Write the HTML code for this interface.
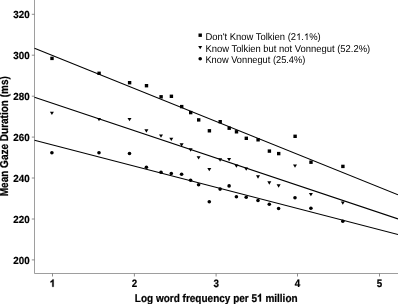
<!DOCTYPE html>
<html><head><meta charset="utf-8"><style>html,body{margin:0;padding:0;background:#fff}svg{display:block;will-change:transform}text{text-rendering:geometricPrecision;font-family:"Liberation Sans",sans-serif;fill:#000}.h{fill:none;stroke:none}.b{stroke:#000;stroke-width:0.2px;font-weight:bold}</style></head><body>
<svg width="398" height="304" viewBox="0 0 398 304">
<rect width="398" height="304" fill="#fff"/>
<path d="M34.5 0V273.5H398" stroke="#8c8c8c" stroke-width="0.85" fill="none"/>
<g stroke="#707070" stroke-width="0.8" fill="none">
<path d="M31.8 14.3H34.5"/>
<path d="M31.8 55.2H34.5"/>
<path d="M31.8 96.2H34.5"/>
<path d="M31.8 137.1H34.5"/>
<path d="M31.8 178.0H34.5"/>
<path d="M31.8 219.0H34.5"/>
<path d="M31.8 259.9H34.5"/>
<path d="M52.5 273.5V276.5"/>
<path d="M134.4 273.5V276.5"/>
<path d="M216.1 273.5V276.5"/>
<path d="M297.5 273.5V276.5"/>
<path d="M379.5 273.5V276.5"/>
</g>
<g font-size="9.8" class="b">
<text transform="translate(29.6 17.8) scale(1 1.05)" text-anchor="end">320</text>
<text transform="translate(29.6 58.8) scale(1 1.05)" text-anchor="end">300</text>
<text transform="translate(29.6 99.8) scale(1 1.05)" text-anchor="end">280</text>
<text transform="translate(29.6 140.8) scale(1 1.05)" text-anchor="end">260</text>
<text transform="translate(29.6 181.8) scale(1 1.05)" text-anchor="end">240</text>
<text transform="translate(29.6 222.8) scale(1 1.05)" text-anchor="end">220</text>
<text transform="translate(29.6 263.8) scale(1 1.05)" text-anchor="end">200</text>
<path transform="translate(49.78 286.8) scale(9.8 -10.316)" d="M.394 0H.256V.517Q.18 .446 .078 .412V.536Q.136 .555 .203 .604Q.269 .653 .282 .719H.394Z" fill="#000" stroke="#000" stroke-width="0.03"/>
<text transform="translate(134.4 286.8) scale(1 1.1)" text-anchor="middle">2</text>
<text transform="translate(216.1 286.8) scale(1 1.1)" text-anchor="middle">3</text>
<text transform="translate(297.5 286.8) scale(1 1.1)" text-anchor="middle">4</text>
<text transform="translate(379.5 286.8) scale(1 1.1)" text-anchor="middle">5</text>
</g>
<text id="xt" transform="translate(134.8 301.5) scale(1 1.12)" font-size="10.0" class="b">Log word frequency per 5<tspan class="h">1</tspan> million</text>
<path transform="translate(134.8 301.5) scale(1 1.12) translate(122.25 0) scale(10.0 -9.569)" d="M.394 0H.256V.517Q.18 .446 .078 .412V.536Q.136 .555 .203 .604Q.269 .653 .282 .719H.394Z" fill="#000" stroke="#000" stroke-width="0.03"/>
<text transform="translate(7.6 136.2) rotate(-90) scale(1 1.15)" font-size="10.0" class="b" text-anchor="middle">Mean Gaze Duration (ms)</text>
<g stroke="#000" stroke-width="1.05" fill="none">
<path d="M34.5 48.3L398 194.8"/>
<path d="M34.5 97.2L398 218.9"/>
<path d="M34.5 140.3L398 234.6"/>
</g>
<g fill="#000">
<rect x="50.30" y="56.70" width="3.4" height="3.4"/>
<rect x="97.40" y="71.60" width="3.4" height="3.4"/>
<rect x="127.90" y="81.00" width="3.4" height="3.4"/>
<rect x="144.80" y="84.00" width="3.4" height="3.4"/>
<rect x="159.40" y="95.10" width="3.4" height="3.4"/>
<rect x="169.70" y="94.60" width="3.4" height="3.4"/>
<rect x="180.00" y="104.90" width="3.4" height="3.4"/>
<rect x="189.00" y="110.90" width="3.4" height="3.4"/>
<rect x="197.00" y="118.20" width="3.4" height="3.4"/>
<rect x="207.70" y="129.10" width="3.4" height="3.4"/>
<rect x="218.50" y="120.00" width="3.4" height="3.4"/>
<rect x="227.50" y="126.50" width="3.4" height="3.4"/>
<rect x="234.80" y="130.10" width="3.4" height="3.4"/>
<rect x="244.60" y="136.60" width="3.4" height="3.4"/>
<rect x="256.40" y="138.10" width="3.4" height="3.4"/>
<rect x="267.70" y="149.40" width="3.4" height="3.4"/>
<rect x="277.00" y="151.90" width="3.4" height="3.4"/>
<rect x="293.40" y="134.60" width="3.4" height="3.4"/>
<rect x="309.30" y="160.50" width="3.4" height="3.4"/>
<rect x="341.20" y="164.70" width="3.4" height="3.4"/>
<path d="M49.90 111.65h4.0L51.90 114.95z"/>
<path d="M97.00 118.05h4.0L99.00 121.35z"/>
<path d="M127.50 117.95h4.0L129.50 121.25z"/>
<path d="M144.40 129.35h4.0L146.40 132.65z"/>
<path d="M159.00 134.45h4.0L161.00 137.75z"/>
<path d="M169.30 137.75h4.0L171.30 141.05z"/>
<path d="M179.60 143.35h4.0L181.60 146.65z"/>
<path d="M188.60 148.35h4.0L190.60 151.65z"/>
<path d="M196.60 156.15h4.0L198.60 159.45z"/>
<path d="M207.30 167.95h4.0L209.30 171.25z"/>
<path d="M218.10 158.35h4.0L220.10 161.65z"/>
<path d="M227.10 158.05h4.0L229.10 161.35z"/>
<path d="M234.40 164.45h4.0L236.40 167.75z"/>
<path d="M244.20 167.45h4.0L246.20 170.75z"/>
<path d="M256.00 175.35h4.0L258.00 178.65z"/>
<path d="M267.30 181.35h4.0L269.30 184.65z"/>
<path d="M276.60 184.35h4.0L278.60 187.65z"/>
<path d="M293.00 164.55h4.0L295.00 167.85z"/>
<path d="M308.90 192.95h4.0L310.90 196.25z"/>
<path d="M340.80 201.45h4.0L342.80 204.75z"/>
<circle cx="51.90" cy="152.80" r="1.8"/>
<circle cx="99.00" cy="152.80" r="1.8"/>
<circle cx="129.50" cy="153.50" r="1.8"/>
<circle cx="146.40" cy="167.20" r="1.8"/>
<circle cx="161.00" cy="172.20" r="1.8"/>
<circle cx="171.30" cy="173.50" r="1.8"/>
<circle cx="181.60" cy="174.20" r="1.8"/>
<circle cx="190.60" cy="180.20" r="1.8"/>
<circle cx="198.60" cy="184.80" r="1.8"/>
<circle cx="209.30" cy="201.70" r="1.8"/>
<circle cx="220.10" cy="189.10" r="1.8"/>
<circle cx="229.10" cy="185.90" r="1.8"/>
<circle cx="236.40" cy="196.70" r="1.8"/>
<circle cx="246.20" cy="197.20" r="1.8"/>
<circle cx="258.00" cy="200.50" r="1.8"/>
<circle cx="269.30" cy="204.20" r="1.8"/>
<circle cx="278.60" cy="208.50" r="1.8"/>
<circle cx="295.00" cy="197.70" r="1.8"/>
<circle cx="310.90" cy="208.20" r="1.8"/>
<circle cx="342.80" cy="221.30" r="1.8"/>
<rect x="198.50" y="33.50" width="3.4" height="3.4"/>
<path d="M198.20 45.95h4.0L200.20 49.25z"/>
<circle cx="200.20" cy="58.80" r="1.8"/>
</g>
<g font-size="9.43">
<text id="l1" transform="translate(205.4 39.95) scale(1 1.05)">Don't Know Tolkien (2<tspan class="h">1</tspan>.<tspan class="h">1</tspan>%)</text>
<path transform="translate(205.4 39.95) scale(1 1.05) translate(90.67 0) scale(9.43 -9.024)" d="M.373 0H.285V.56Q.253 .53 .201 .4995Q.15 .469 .109 .454V.539Q.183 .574 .238 .623Q.293 .672 .316 .719H.373Z" fill="#000" />
<path transform="translate(205.4 39.95) scale(1 1.05) translate(98.55 0) scale(9.43 -9.024)" d="M.373 0H.285V.56Q.253 .53 .201 .4995Q.15 .469 .109 .454V.539Q.183 .574 .238 .623Q.293 .672 .316 .719H.373Z" fill="#000" />
<text transform="translate(205.4 51.7) scale(1 1.05)">Know Tolkien but not Vonnegut (52.2%)</text>
<text font-size="9.27" transform="translate(205.4 62.6) scale(1 1.068)">Know Vonnegut (25.4%)</text>
</g>
</svg></body></html>
